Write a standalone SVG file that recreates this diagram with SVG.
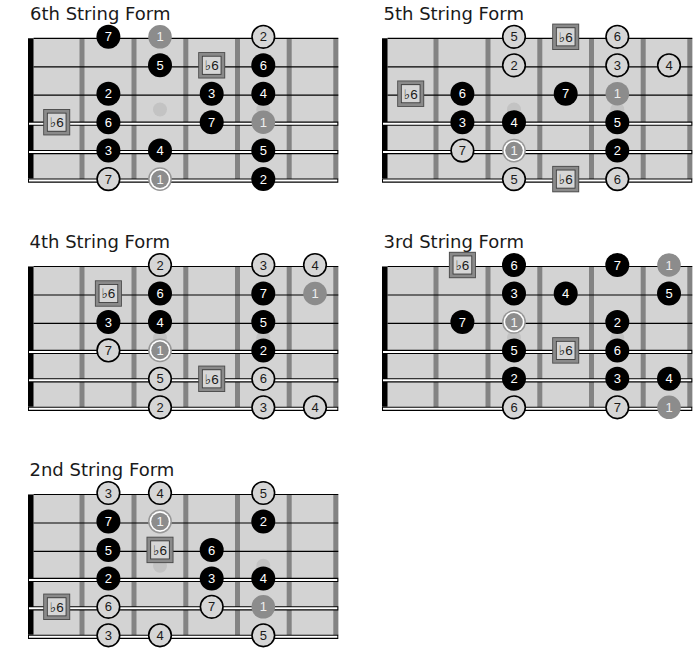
<svg xmlns="http://www.w3.org/2000/svg" xmlns:xlink="http://www.w3.org/1999/xlink" width="699" height="651" viewBox="0 0 699 651">
<style>
.title{font-family:"DejaVu Sans",Verdana,sans-serif;font-size:18px;fill:#1a1a1a}
.board{fill:#d3d3d3}
.fret{fill:#838383}
.nut{fill:#000}
.mark{fill:#c3c3c3}
.thin{stroke:#000;stroke-width:1.2}
.thkO{stroke:#000;stroke-width:4.2}
.thkI{stroke:#fff;stroke-width:2}
.n text{font-family:"Liberation Sans",Arial,"DejaVu Sans",sans-serif;font-size:13px;text-anchor:middle}
.nb circle{fill:#000}
.nb text{fill:#fff}
.nl circle{fill:#d6d6d6;stroke:#000;stroke-width:1.6}
.nl text{fill:#1a1a1a}
.ng circle{fill:#8c8c8c}
.ng text{fill:#eeeeee}
.nr text{fill:#f2f2f2}
.ns text{fill:#1a1a1a;font-size:13.5px}
</style>
<defs>
<g id="ring"><circle r="11.9" fill="#979797"/><circle r="10.4" fill="#fff"/><circle r="8.8" fill="#8c8c8c"/></g>
<g id="sq"><rect x="-13.5" y="-13.2" width="27" height="26.4" fill="#4a4a4a"/><rect x="-12.6" y="-12.3" width="25.2" height="24.6" fill="#8a8a8a"/><rect x="-9.8" y="-9.5" width="19.6" height="19" fill="#3a3a3a"/><rect x="-8.9" y="-8.6" width="17.8" height="17.2" fill="#d6d6d6"/></g>
<g id="board">
<rect class="board" x="28" y="38.3" width="310.3" height="140.9"/>
<rect class="fret" x="79.5" y="38.3" width="5" height="140.9"/>
<rect class="fret" x="131.5" y="38.3" width="5" height="140.9"/>
<rect class="fret" x="183.3" y="38.3" width="5" height="140.9"/>
<rect class="fret" x="235" y="38.3" width="5" height="140.9"/>
<rect class="fret" x="286.7" y="38.3" width="5" height="140.9"/>
<rect class="fret" x="333.3" y="38.3" width="5" height="140.9"/>
<rect class="nut" x="28" y="38.3" width="5.5" height="140.2"/>
<circle class="mark" cx="160" cy="109.5" r="7"/>
<circle class="mark" cx="263.3" cy="109.5" r="7"/>
<line class="thin" x1="33.5" y1="38.3" x2="338.3" y2="38.3"/>
<line class="thin" x1="33.5" y1="66.8" x2="338.3" y2="66.8"/>
<line class="thin" x1="33.5" y1="95.2" x2="338.3" y2="95.2"/>
<line class="thkO" x1="28" y1="123.7" x2="338.3" y2="123.7"/>
<line class="thkI" x1="29" y1="123.7" x2="337.3" y2="123.7"/>
<line class="thkO" x1="28" y1="152.1" x2="338.3" y2="152.1"/>
<line class="thkI" x1="29" y1="152.1" x2="337.3" y2="152.1"/>
<line class="thkO" x1="28" y1="180.6" x2="338.3" y2="180.6"/>
<line class="thkI" x1="29" y1="180.6" x2="337.3" y2="180.6"/>
</g>
</defs>

<g id="form6" transform="translate(0,0)">
<text class="title" x="30" y="20">6th String Form</text>
<use xlink:href="#board" href="#board"/>
<g id="f6-notes">
<g id="f6-s1-7" class="n nb" transform="translate(108.4,36.8)"><circle r="12"/><text y="4.6">7</text></g>
<g id="f6-s1-1" class="n ng" transform="translate(160,36.8)"><circle r="11.8"/><text y="4.6">1</text></g>
<g id="f6-s1-2" class="n nl" transform="translate(263.3,36.8)"><circle r="11.3"/><text y="4.6">2</text></g>
<g id="f6-s2-5" class="n nb" transform="translate(160,65.3)"><circle r="12"/><text y="4.6">5</text></g>
<g id="f6-s2-b6" class="n ns" transform="translate(211.7,65.3)"><use xlink:href="#sq" href="#sq"/><text y="4.8">♭6</text></g>
<g id="f6-s2-6" class="n nb" transform="translate(263.3,65.3)"><circle r="12"/><text y="4.6">6</text></g>
<g id="f6-s3-2" class="n nb" transform="translate(108.4,93.7)"><circle r="12"/><text y="4.6">2</text></g>
<g id="f6-s3-3" class="n nb" transform="translate(211.7,93.7)"><circle r="12"/><text y="4.6">3</text></g>
<g id="f6-s3-4" class="n nb" transform="translate(263.3,93.7)"><circle r="12"/><text y="4.6">4</text></g>
<g id="f6-s4-b6" class="n ns" transform="translate(56.7,122.2)"><use xlink:href="#sq" href="#sq"/><text y="4.8">♭6</text></g>
<g id="f6-s4-6" class="n nb" transform="translate(108.4,122.2)"><circle r="12"/><text y="4.6">6</text></g>
<g id="f6-s4-7" class="n nb" transform="translate(211.7,122.2)"><circle r="12"/><text y="4.6">7</text></g>
<g id="f6-s4-1" class="n ng" transform="translate(263.3,122.2)"><circle r="11.8"/><text y="4.6">1</text></g>
<g id="f6-s5-3" class="n nb" transform="translate(108.4,150.6)"><circle r="12"/><text y="4.6">3</text></g>
<g id="f6-s5-4" class="n nb" transform="translate(160,150.6)"><circle r="12"/><text y="4.6">4</text></g>
<g id="f6-s5-5" class="n nb" transform="translate(263.3,150.6)"><circle r="12"/><text y="4.6">5</text></g>
<g id="f6-s6-7" class="n nl" transform="translate(108.4,179.1)"><circle r="11.3"/><text y="4.6">7</text></g>
<g id="f6-s6-1" class="n nr" transform="translate(160,179.1)"><use xlink:href="#ring" href="#ring"/><text y="4.6">1</text></g>
<g id="f6-s6-2" class="n nb" transform="translate(263.3,179.1)"><circle r="12"/><text y="4.6">2</text></g>
</g>
</g>

<g id="form5" transform="translate(354,0)">
<text class="title" x="29.5" y="20">5th String Form</text>
<use xlink:href="#board" href="#board"/>
<g id="f5-notes">
<g id="f5-s1-5" class="n nl" transform="translate(160,36.8)"><circle r="11.3"/><text y="4.6">5</text></g>
<g id="f5-s1-b6" class="n ns" transform="translate(211.7,36.8)"><use xlink:href="#sq" href="#sq"/><text y="4.8">♭6</text></g>
<g id="f5-s1-6" class="n nl" transform="translate(263.3,36.8)"><circle r="11.3"/><text y="4.6">6</text></g>
<g id="f5-s2-2" class="n nl" transform="translate(160,65.3)"><circle r="11.3"/><text y="4.6">2</text></g>
<g id="f5-s2-3" class="n nl" transform="translate(263.3,65.3)"><circle r="11.3"/><text y="4.6">3</text></g>
<g id="f5-s2-4" class="n nl" transform="translate(315,65.3)"><circle r="11.3"/><text y="4.6">4</text></g>
<g id="f5-s3-b6" class="n ns" transform="translate(56.7,93.7)"><use xlink:href="#sq" href="#sq"/><text y="4.8">♭6</text></g>
<g id="f5-s3-6" class="n nb" transform="translate(108.4,93.7)"><circle r="12"/><text y="4.6">6</text></g>
<g id="f5-s3-7" class="n nb" transform="translate(211.7,93.7)"><circle r="12"/><text y="4.6">7</text></g>
<g id="f5-s3-1" class="n ng" transform="translate(263.3,93.7)"><circle r="11.8"/><text y="4.6">1</text></g>
<g id="f5-s4-3" class="n nb" transform="translate(108.4,122.2)"><circle r="12"/><text y="4.6">3</text></g>
<g id="f5-s4-4" class="n nb" transform="translate(160,122.2)"><circle r="12"/><text y="4.6">4</text></g>
<g id="f5-s4-5" class="n nb" transform="translate(263.3,122.2)"><circle r="12"/><text y="4.6">5</text></g>
<g id="f5-s5-7" class="n nl" transform="translate(108.4,150.6)"><circle r="11.3"/><text y="4.6">7</text></g>
<g id="f5-s5-1" class="n nr" transform="translate(160,150.6)"><use xlink:href="#ring" href="#ring"/><text y="4.6">1</text></g>
<g id="f5-s5-2" class="n nb" transform="translate(263.3,150.6)"><circle r="12"/><text y="4.6">2</text></g>
<g id="f5-s6-5" class="n nl" transform="translate(160,179.1)"><circle r="11.3"/><text y="4.6">5</text></g>
<g id="f5-s6-b6" class="n ns" transform="translate(211.7,179.1)"><use xlink:href="#sq" href="#sq"/><text y="4.8">♭6</text></g>
<g id="f5-s6-6" class="n nl" transform="translate(263.3,179.1)"><circle r="11.3"/><text y="4.6">6</text></g>
</g>
</g>

<g id="form4" transform="translate(0,228.2)">
<text class="title" x="29.5" y="20">4th String Form</text>
<use xlink:href="#board" href="#board"/>
<g id="f4-notes">
<g id="f4-s1-2" class="n nl" transform="translate(160,36.8)"><circle r="11.3"/><text y="4.6">2</text></g>
<g id="f4-s1-3" class="n nl" transform="translate(263.3,36.8)"><circle r="11.3"/><text y="4.6">3</text></g>
<g id="f4-s1-4" class="n nl" transform="translate(315,36.8)"><circle r="11.3"/><text y="4.6">4</text></g>
<g id="f4-s2-b6" class="n ns" transform="translate(108.4,65.3)"><use xlink:href="#sq" href="#sq"/><text y="4.8">♭6</text></g>
<g id="f4-s2-6" class="n nb" transform="translate(160,65.3)"><circle r="12"/><text y="4.6">6</text></g>
<g id="f4-s2-7" class="n nb" transform="translate(263.3,65.3)"><circle r="12"/><text y="4.6">7</text></g>
<g id="f4-s2-1" class="n ng" transform="translate(315,65.3)"><circle r="11.8"/><text y="4.6">1</text></g>
<g id="f4-s3-3" class="n nb" transform="translate(108.4,93.7)"><circle r="12"/><text y="4.6">3</text></g>
<g id="f4-s3-4" class="n nb" transform="translate(160,93.7)"><circle r="12"/><text y="4.6">4</text></g>
<g id="f4-s3-5" class="n nb" transform="translate(263.3,93.7)"><circle r="12"/><text y="4.6">5</text></g>
<g id="f4-s4-7" class="n nl" transform="translate(108.4,122.2)"><circle r="11.3"/><text y="4.6">7</text></g>
<g id="f4-s4-1" class="n nr" transform="translate(160,122.2)"><use xlink:href="#ring" href="#ring"/><text y="4.6">1</text></g>
<g id="f4-s4-2" class="n nb" transform="translate(263.3,122.2)"><circle r="12"/><text y="4.6">2</text></g>
<g id="f4-s5-5" class="n nl" transform="translate(160,150.6)"><circle r="11.3"/><text y="4.6">5</text></g>
<g id="f4-s5-b6" class="n ns" transform="translate(211.7,150.6)"><use xlink:href="#sq" href="#sq"/><text y="4.8">♭6</text></g>
<g id="f4-s5-6" class="n nl" transform="translate(263.3,150.6)"><circle r="11.3"/><text y="4.6">6</text></g>
<g id="f4-s6-2" class="n nl" transform="translate(160,179.1)"><circle r="11.3"/><text y="4.6">2</text></g>
<g id="f4-s6-3" class="n nl" transform="translate(263.3,179.1)"><circle r="11.3"/><text y="4.6">3</text></g>
<g id="f4-s6-4" class="n nl" transform="translate(315,179.1)"><circle r="11.3"/><text y="4.6">4</text></g>
</g>
</g>

<g id="form3" transform="translate(354,228.2)">
<text class="title" x="29.5" y="20">3rd String Form</text>
<use xlink:href="#board" href="#board"/>
<g id="f3-notes">
<g id="f3-s1-b6" class="n ns" transform="translate(108.4,36.8)"><use xlink:href="#sq" href="#sq"/><text y="4.8">♭6</text></g>
<g id="f3-s1-6" class="n nb" transform="translate(160,36.8)"><circle r="12"/><text y="4.6">6</text></g>
<g id="f3-s1-7" class="n nb" transform="translate(263.3,36.8)"><circle r="12"/><text y="4.6">7</text></g>
<g id="f3-s1-1" class="n ng" transform="translate(315,36.8)"><circle r="11.8"/><text y="4.6">1</text></g>
<g id="f3-s2-3" class="n nb" transform="translate(160,65.3)"><circle r="12"/><text y="4.6">3</text></g>
<g id="f3-s2-4" class="n nb" transform="translate(211.7,65.3)"><circle r="12"/><text y="4.6">4</text></g>
<g id="f3-s2-5" class="n nb" transform="translate(315,65.3)"><circle r="12"/><text y="4.6">5</text></g>
<g id="f3-s3-7" class="n nb" transform="translate(108.4,93.7)"><circle r="12"/><text y="4.6">7</text></g>
<g id="f3-s3-1" class="n nr" transform="translate(160,93.7)"><use xlink:href="#ring" href="#ring"/><text y="4.6">1</text></g>
<g id="f3-s3-2" class="n nb" transform="translate(263.3,93.7)"><circle r="12"/><text y="4.6">2</text></g>
<g id="f3-s4-5" class="n nb" transform="translate(160,122.2)"><circle r="12"/><text y="4.6">5</text></g>
<g id="f3-s4-b6" class="n ns" transform="translate(211.7,122.2)"><use xlink:href="#sq" href="#sq"/><text y="4.8">♭6</text></g>
<g id="f3-s4-6" class="n nb" transform="translate(263.3,122.2)"><circle r="12"/><text y="4.6">6</text></g>
<g id="f3-s5-2" class="n nb" transform="translate(160,150.6)"><circle r="12"/><text y="4.6">2</text></g>
<g id="f3-s5-3" class="n nb" transform="translate(263.3,150.6)"><circle r="12"/><text y="4.6">3</text></g>
<g id="f3-s5-4" class="n nb" transform="translate(315,150.6)"><circle r="12"/><text y="4.6">4</text></g>
<g id="f3-s6-6" class="n nl" transform="translate(160,179.1)"><circle r="11.3"/><text y="4.6">6</text></g>
<g id="f3-s6-7" class="n nl" transform="translate(263.3,179.1)"><circle r="11.3"/><text y="4.6">7</text></g>
<g id="f3-s6-1" class="n ng" transform="translate(315,179.1)"><circle r="11.8"/><text y="4.6">1</text></g>
</g>
</g>

<g id="form2" transform="translate(0,456.2)">
<text class="title" x="29.5" y="20">2nd String Form</text>
<use xlink:href="#board" href="#board"/>
<g id="f2-notes">
<g id="f2-s1-3" class="n nl" transform="translate(108.4,36.8)"><circle r="11.3"/><text y="4.6">3</text></g>
<g id="f2-s1-4" class="n nl" transform="translate(160,36.8)"><circle r="11.3"/><text y="4.6">4</text></g>
<g id="f2-s1-5" class="n nl" transform="translate(263.3,36.8)"><circle r="11.3"/><text y="4.6">5</text></g>
<g id="f2-s2-7" class="n nb" transform="translate(108.4,65.3)"><circle r="12"/><text y="4.6">7</text></g>
<g id="f2-s2-1" class="n nr" transform="translate(160,65.3)"><use xlink:href="#ring" href="#ring"/><text y="4.6">1</text></g>
<g id="f2-s2-2" class="n nb" transform="translate(263.3,65.3)"><circle r="12"/><text y="4.6">2</text></g>
<g id="f2-s3-5" class="n nb" transform="translate(108.4,93.7)"><circle r="12"/><text y="4.6">5</text></g>
<g id="f2-s3-b6" class="n ns" transform="translate(160,93.7)"><use xlink:href="#sq" href="#sq"/><text y="4.8">♭6</text></g>
<g id="f2-s3-6" class="n nb" transform="translate(211.7,93.7)"><circle r="12"/><text y="4.6">6</text></g>
<g id="f2-s4-2" class="n nb" transform="translate(108.4,122.2)"><circle r="12"/><text y="4.6">2</text></g>
<g id="f2-s4-3" class="n nb" transform="translate(211.7,122.2)"><circle r="12"/><text y="4.6">3</text></g>
<g id="f2-s4-4" class="n nb" transform="translate(263.3,122.2)"><circle r="12"/><text y="4.6">4</text></g>
<g id="f2-s5-b6" class="n ns" transform="translate(56.7,150.6)"><use xlink:href="#sq" href="#sq"/><text y="4.8">♭6</text></g>
<g id="f2-s5-6" class="n nl" transform="translate(108.4,150.6)"><circle r="11.3"/><text y="4.6">6</text></g>
<g id="f2-s5-7" class="n nl" transform="translate(211.7,150.6)"><circle r="11.3"/><text y="4.6">7</text></g>
<g id="f2-s5-1" class="n ng" transform="translate(263.3,150.6)"><circle r="11.8"/><text y="4.6">1</text></g>
<g id="f2-s6-3" class="n nl" transform="translate(108.4,179.1)"><circle r="11.3"/><text y="4.6">3</text></g>
<g id="f2-s6-4" class="n nl" transform="translate(160,179.1)"><circle r="11.3"/><text y="4.6">4</text></g>
<g id="f2-s6-5" class="n nl" transform="translate(263.3,179.1)"><circle r="11.3"/><text y="4.6">5</text></g>
</g>
</g>
</svg>
